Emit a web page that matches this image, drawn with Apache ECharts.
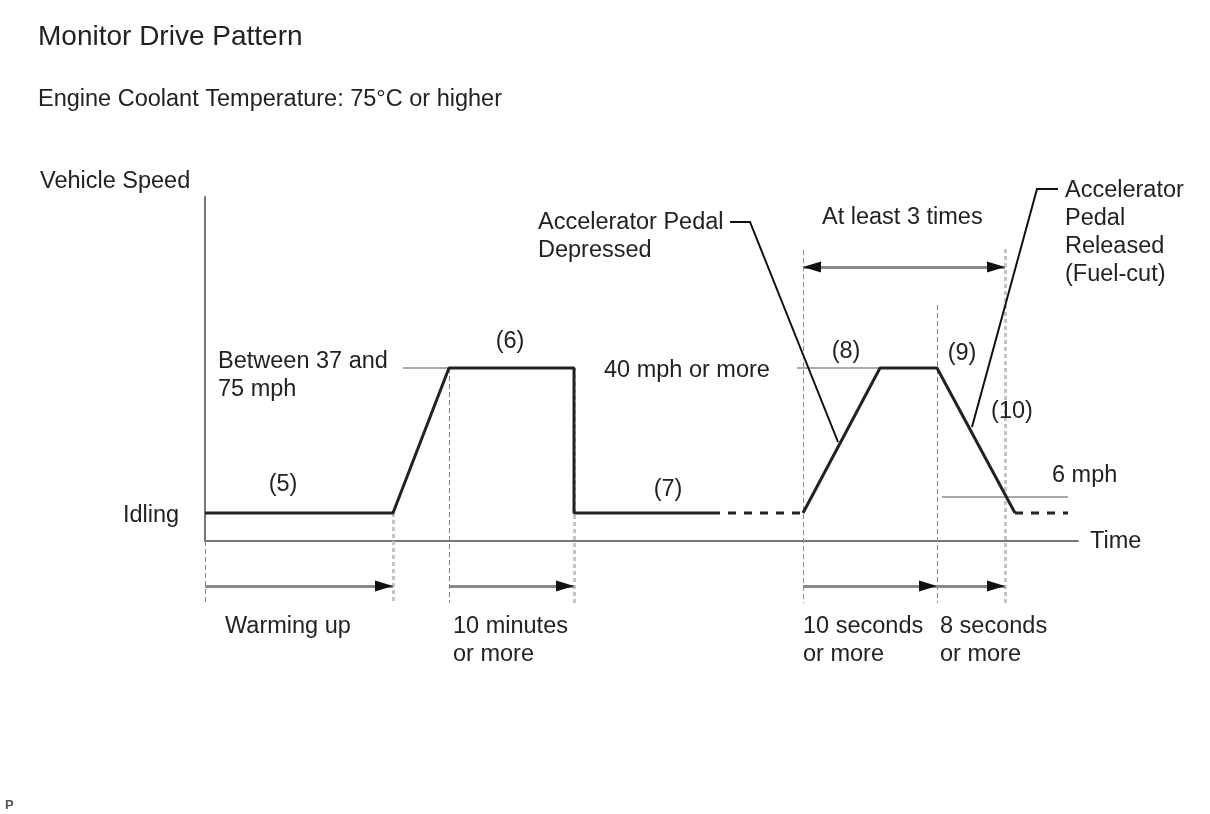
<!DOCTYPE html>
<html>
<head>
<meta charset="utf-8">
<script src="https://cdn.jsdelivr.net/npm/echarts@6/dist/echarts.min.js"></script>
<style>
    html, body { margin: 0; padding: 0; background: #fff; }
    #chart { width: 1210px; height: 814px; }
</style>
</head>
<body>
<div id="chart"></div>
<script>
// units: x = time (axis origin at 0), y = speed above the time axis

// speed trace, solid and dashed parts
var warmupTrace = [[0, 28], [188, 28], [244, 173], [369, 173], [369, 28], [507, 28]];
var idleGapLeft = [[507, 28], [598, 28]];
var cycleTrace = [[598, 28], [675, 173], [732, 173], [810, 28]];
var idleGapRight = [[810, 28], [863, 28]];

// thin threshold lines: [x1, x2, y]
var thresholds = [[198, 244, 173], [592, 675, 173], [737, 863, 44]];

// dashed guides: [x, yTop, yBottom]
var startGuides = [[0, 0, -62], [244, 173, -62], [598, 291, -62], [732, 236, -62]];
var endGuides = [[188, 28, -62], [369, 173, -62], [800, 292, -62]];

// duration arrows: [xFrom, xTo, y]
var spans = [[0, 188, -45], [244, 369, -45], [598, 732, -45], [732, 800, -45]];
var repeatSpan = [598, 800, 274];

// pedal callouts
var pedalDown = [[525, 319], [545, 319], [633, 99]];
var pedalUp = [[853, 352], [832, 352], [767, 114]];

// text
var labelNames = ['Vehicle Speed', 'Idling', 'Time', '(5)', 'Between 37 and\n75 mph', '(6)', '(7)',
    '40 mph or more', '(8)', '(9)', '(10)', '6 mph', 'Accelerator Pedal\nDepressed',
    'At least 3 times', 'Accelerator\nPedal\nReleased\n(Fuel-cut)', 'Warming up',
    '10 minutes\nor more', '10 seconds\nor more', '8 seconds\nor more'];
var labelPoints = [[-165, 359], [-82, 25], [885, -1], [78, 56], [13, 165], [305, 199], [463, 51],
    [399, 170], [641, 189], [757, 187], [807, 129], [847, 65], [333, 304],
    [617, 323], [860, 308], [20, -86], [248, -100], [598, -100], [735, -100]];
var labelAligns = ['left', 'left', 'left', 'center', 'left', 'center', 'center',
    'left', 'center', 'center', 'center', 'left', 'left',
    'left', 'left', 'left', 'left', 'left', 'left'];

var FONT = '"Liberation Sans", Arial, sans-serif';
var chart = echarts.init(document.getElementById('chart'));

function traceSeries(data, dashed) {
    return {
        type: 'line', data: data, showSymbol: false, clip: false, silent: true,
        lineStyle: { color: '#222', width: 3, type: dashed ? [8, 8] : 'solid' }
    };
}

function segSeries(data, style, polyline) {
    return {
        type: 'lines', coordinateSystem: 'cartesian2d', clip: false, silent: true,
        polyline: !!polyline, lineStyle: Object.assign({ opacity: 1 }, style), data: data
    };
}

function guideCoords(list) {
    return list.map(function (g) { return { coords: [[g[0], g[1]], [g[0], g[2]]] }; });
}

var spanCoords = spans.map(function (s) { return { coords: [[s[0], s[2]], [s[1], s[2]]] }; });
var repeatCoords = [{ coords: [[repeatSpan[0], repeatSpan[2]], [repeatSpan[1], repeatSpan[2]]] }];

// arrow heads: right pointing at every span end, left pointing at the repeat start
var headsRight = spans.map(function (s) { return [s[1], s[2]]; }).concat([[repeatSpan[1], repeatSpan[2]]]);
var headsLeft = [[repeatSpan[0], repeatSpan[2]]];

function headSeries(data, rotate, offset) {
    return {
        type: 'scatter', data: data, clip: false, silent: true,
        symbol: 'triangle', symbolSize: [11, 18], symbolRotate: rotate, symbolOffset: [offset, 0],
        itemStyle: { color: '#111', opacity: 1 }
    };
}

chart.setOption({
    animation: false,
    title: [
        { text: 'Monitor Drive Pattern', left: 33, top: 18,
          textStyle: { fontFamily: FONT, fontSize: 28, fontWeight: 'normal', color: '#222' } },
        { text: 'Engine Coolant Temperature: 75°C or higher', left: 33, top: 83,
          textStyle: { fontFamily: FONT, fontSize: 23.5, fontWeight: 'normal', color: '#222' } },
        { text: 'P', left: 0, top: 794,
          textStyle: { fontFamily: FONT, fontSize: 13, fontWeight: 'bold', color: '#555' } }
    ],
    grid: { left: 205, right: 132, top: 197, bottom: 273 },
    xAxis: {
        type: 'value', min: 0, max: 873,
        axisLine: { lineStyle: { color: '#777', width: 2 } },
        axisTick: { show: false }, axisLabel: { show: false }, splitLine: { show: false }
    },
    yAxis: {
        type: 'value', min: 0, max: 344,
        axisLine: { show: true, lineStyle: { color: '#777', width: 2 } },
        axisTick: { show: false }, axisLabel: { show: false }, splitLine: { show: false }
    },
    series: [
        segSeries(guideCoords(startGuides), { color: '#888', width: 1, type: [5, 3] }),
        segSeries(guideCoords(endGuides), { color: '#c4c4c4', width: 3, type: [4, 3] }),
        segSeries(thresholds.map(function (t) { return { coords: [[t[0], t[2]], [t[1], t[2]]] }; }),
            { color: '#aaa', width: 2 }),
        traceSeries(warmupTrace, false),
        traceSeries(idleGapLeft, true),
        traceSeries(cycleTrace, false),
        traceSeries(idleGapRight, true),
        segSeries([{ coords: pedalDown }, { coords: pedalUp }], { color: '#111', width: 2 }, true),
        // arrow shafts
        segSeries(spanCoords.concat(repeatCoords), { color: '#888', width: 3 }),
        headSeries(headsRight, -90, -9),
        headSeries(headsLeft, 90, 9),
        {
            type: 'scatter', symbolSize: 0, clip: false, silent: true,
            itemStyle: { opacity: 1 },
            label: {
                show: true, position: [0, 0], verticalAlign: 'middle',
                fontFamily: FONT, fontSize: 23.5, lineHeight: 28, color: '#222',
                formatter: function (p) { return p.name; }
            },
            data: labelNames.map(function (n, i) {
                return { name: n, value: labelPoints[i], label: { align: labelAligns[i] } };
            })
        }
    ]
});
</script>
</body>
</html>
